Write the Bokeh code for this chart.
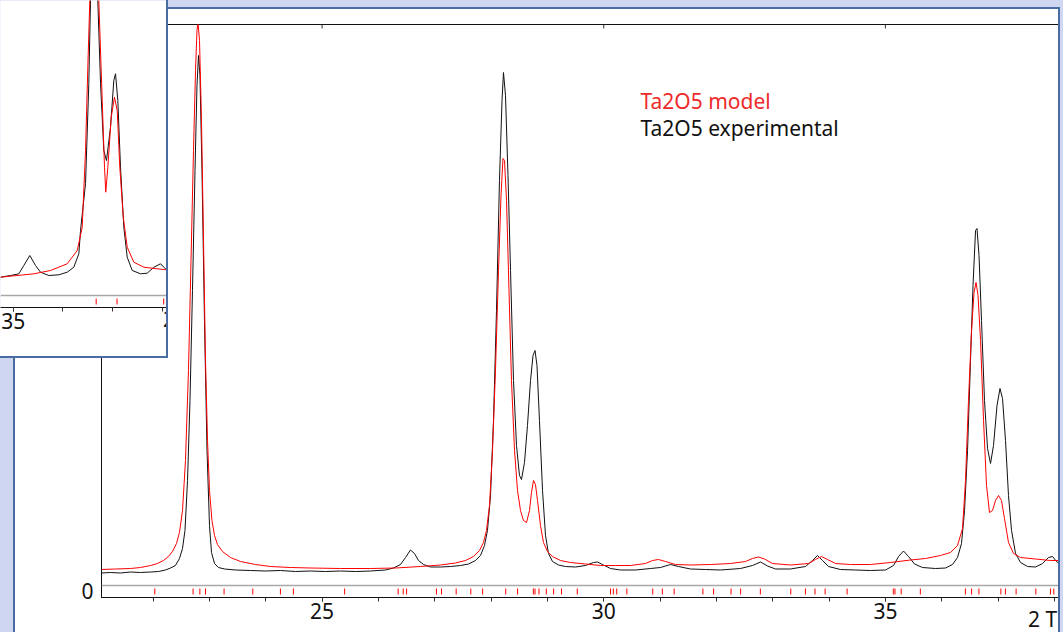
from bokeh.plotting import figure
from bokeh.models import Range1d, FixedTicker, LinearAxis, Label, Span, ColumnDataSource, Div
from bokeh.layouts import column
from bokeh.embed import file_html
from bokeh.resources import INLINE

# ---------------- Ta2O5 powder pattern, full scan ----------------
two_theta_exp = [
    21.084, 21.244, 21.421, 21.599, 21.776, 21.954, 22.096, 22.220, 22.309, 22.397,
    22.468, 22.522, 22.566, 22.611, 22.655, 22.699, 22.744, 22.779, 22.806, 22.832,
    22.868, 22.912, 22.957, 23.001, 23.037, 23.090, 23.161, 23.267, 23.463, 23.729,
    23.995, 24.261, 24.528, 24.794, 25.060, 25.327, 25.593, 25.859, 26.126, 26.268,
    26.392, 26.481, 26.569, 26.640, 26.711, 26.800, 26.924, 27.102, 27.279, 27.457,
    27.599, 27.723, 27.812, 27.883, 27.936, 27.990, 28.043, 28.096, 28.149, 28.194,
    28.220, 28.256, 28.300, 28.345, 28.398, 28.451, 28.504, 28.540, 28.593, 28.646,
    28.700, 28.744, 28.780, 28.815, 28.859, 28.913, 28.966, 29.019, 29.090, 29.197,
    29.321, 29.498, 29.676, 29.818, 29.889, 29.978, 30.120, 30.297, 30.564, 30.830,
    31.007, 31.185, 31.327, 31.540, 31.806, 32.073, 32.428, 32.641, 32.783, 32.907,
    33.049, 33.315, 33.582, 33.706, 33.795, 33.883, 33.990, 34.203, 34.469, 34.735,
    35.002, 35.144, 35.233, 35.321, 35.410, 35.517, 35.659, 35.889, 36.067, 36.191,
    36.280, 36.351, 36.405, 36.458, 36.511, 36.555, 36.600, 36.626, 36.662, 36.706,
    36.759, 36.813, 36.866, 36.919, 36.981, 37.034, 37.079, 37.132, 37.185, 37.239,
    37.310, 37.398, 37.523, 37.665, 37.789, 37.895, 37.966, 38.038, 38.109, 38.140,
]
counts_exp = [
    17.5, 18, 17.5, 18.5, 18, 18.5, 19, 20.5, 22.5, 25,
    32, 42, 60, 110, 190, 300, 420, 505, 535, 515,
    420, 270, 140, 65, 38, 27, 23, 21.5, 20.5, 20,
    19.5, 20, 19, 19.5, 19, 19.5, 19, 19.5, 20.5, 22.5,
    26, 33, 40.5, 37, 30, 26, 23.5, 23.5, 24, 25,
    26.5, 30, 35, 45, 60, 95, 170, 280, 410, 490,
    518, 495, 415, 320, 210, 145, 115, 111, 128, 165,
    210, 235, 240, 225, 170, 100, 55, 37, 29, 25.5,
    24, 23.5, 25, 28, 28.5, 26, 22, 20.5, 20.5, 22,
    23, 26, 24, 21.5, 21, 20.5, 22, 25, 28.5, 24.5,
    21.5, 21.5, 24, 30, 35, 30, 24, 21, 20.5, 20,
    20.5, 25, 34, 39.5, 34, 26.5, 23, 22, 22.5, 26,
    33, 47, 80, 140, 230, 305, 360, 362, 335, 270,
    190, 142, 127, 145, 185, 202, 192, 150, 95, 60,
    37, 28, 24, 23.5, 27, 33, 34, 29, 26, 25,
]

two_theta_model = [
    21.084, 21.332, 21.599, 21.776, 21.954, 22.078, 22.184, 22.273, 22.344, 22.415,
    22.468, 22.522, 22.575, 22.628, 22.673, 22.717, 22.753, 22.779, 22.797, 22.824,
    22.859, 22.895, 22.930, 22.966, 23.001, 23.045, 23.090, 23.143, 23.232, 23.374,
    23.551, 23.818, 24.084, 24.439, 24.794, 25.327, 25.859, 26.303, 26.747, 27.102,
    27.368, 27.546, 27.688, 27.794, 27.865, 27.918, 27.972, 28.025, 28.078, 28.132,
    28.176, 28.211, 28.238, 28.274, 28.318, 28.362, 28.416, 28.469, 28.522, 28.575,
    28.629, 28.682, 28.717, 28.753, 28.788, 28.824, 28.877, 28.930, 29.001, 29.090,
    29.232, 29.410, 29.676, 29.942, 30.209, 30.475, 30.741, 30.865, 30.972, 31.096,
    31.274, 31.540, 31.895, 32.250, 32.516, 32.641, 32.747, 32.854, 32.996, 33.315,
    33.635, 33.759, 33.866, 33.972, 34.114, 34.380, 34.735, 35.091, 35.446, 35.712,
    35.978, 36.156, 36.280, 36.369, 36.422, 36.475, 36.529, 36.573, 36.609, 36.644,
    36.689, 36.742, 36.795, 36.848, 36.901, 36.955, 37.008, 37.061, 37.114, 37.185,
    37.274, 37.398, 37.665, 37.931, 38.140,
]
counts_model = [
    21, 21.5, 22, 23, 25, 27, 30, 34, 39, 47,
    58, 80, 130, 220, 330, 440, 520, 560, 568, 550,
    470, 350, 230, 150, 100, 70, 55, 46, 39, 33,
    29, 26, 24, 23, 22.5, 22, 22, 22.5, 24, 25.5,
    27.5, 30, 34, 40, 48, 60, 85, 140, 220, 320,
    395, 432, 430, 390, 300, 210, 140, 100, 80, 70,
    68, 80, 98, 110, 106, 90, 65, 48, 39, 34,
    30, 28, 26.5, 25, 25, 25, 27, 30, 31, 29,
    26, 25.5, 26, 27, 29, 32, 33.5, 31.5, 27, 25.5,
    27, 31, 34, 31, 27, 26, 26, 28, 30.5, 32,
    35, 38, 45, 62, 110, 190, 260, 298, 308, 295,
    250, 170, 105, 78, 80, 90, 95, 90, 72, 48,
    37, 33, 31.5, 30, 30,
]

# calculated reflection positions of the model phase
reflections = [
    22.03, 22.71, 22.83, 22.93, 23.26, 23.77, 24.26, 24.49, 25.40, 26.35,
    26.44, 26.50, 27.03, 27.12, 27.38, 27.64, 27.85, 28.26, 28.47, 28.75,
    28.78, 28.85, 28.98, 29.11, 29.25, 29.53, 30.12, 30.17, 30.23, 30.41,
    30.87, 31.04, 31.25, 31.76, 31.95, 32.26, 32.43, 32.78, 33.32, 33.58,
    33.75, 33.93, 34.32, 35.14, 35.17, 35.28, 35.62, 36.42, 36.53, 36.66,
    37.05, 37.13, 37.32, 37.67, 37.93, 37.99,
]

# ---------------- second window: the 36-38 deg doublet ----------------
zoom_two_theta_exp = [
    34.744, 34.946, 35.113, 35.213, 35.334, 35.449, 35.550, 35.717, 35.918, 36.087,
    36.220, 36.321, 36.355, 36.456, 36.522, 36.556, 36.610, 36.660, 36.703, 36.758,
    36.824, 36.878, 36.959, 37.025, 37.060, 37.106, 37.160, 37.227, 37.295, 37.396,
    37.563, 37.698, 37.831, 37.966, 38.066, 38.127,
]
zoom_counts_exp = [
    23.3, 25, 26.7, 35, 45, 35, 28.3, 25, 25.7, 28.3,
    33.3, 46.7, 70, 117, 217, 300, 400, 370, 300, 217,
    150, 140, 173.3, 220, 226.7, 200, 133.3, 73.3, 43.3, 30,
    26.7, 27.3, 33.3, 36.7, 31.7, 30,
]
zoom_two_theta_model = [
    34.744, 35.415, 35.751, 36.087, 36.289, 36.389, 36.456, 36.502, 36.542, 36.617,
    36.723, 36.792, 36.838, 36.863, 36.905, 36.973, 37.039, 37.094, 37.146, 37.215,
    37.295, 37.428, 37.629, 37.899, 38.080, 38.127,
]
zoom_counts_model = [
    23.3, 26.7, 30, 36.7, 50, 73.3, 150, 233.3, 300, 380,
    300, 200, 133.3, 108.3, 133.3, 183.3, 203.3, 190, 133.3, 83.3,
    53.3, 38.3, 33.3, 31.7, 30.7, 30.5,
]
zoom_reflections = [36.67, 37.09, 38.03]

x_major = [25, 30, 35]
x_minor = list(range(21, 39))
zoom_major = [35, 40]
zoom_minor = [35, 36, 37, 38]
y_ticks = [0]
legend_labels = ["Ta2O5 model", "Ta2O5 experimental"]
axis_title = "2 Theta"

FONT = "Noto Sans"
LAVENDER = "#ced6f2"
FRAME_BLUE = "#4a6ca5"
RED = "#ff0000"
BLACK = "#111111"
MARKER_BAND = "#a8a8a8"

Y_MAIN = (-7, 566)
Y_ZOOM = (-7, 300)


def style_bottom_axis(ax):
    ax.axis_line_color = BLACK
    ax.axis_line_width = 1
    ax.major_tick_line_color = "#333333"
    ax.minor_tick_line_color = "#333333"
    ax.major_tick_in = 0
    ax.major_tick_out = 4
    ax.minor_tick_in = 0
    ax.minor_tick_out = 4
    ax.major_label_standoff = 1
    ax.major_label_text_font = FONT
    ax.major_label_text_font_size = "21px"
    ax.major_label_text_color = BLACK


def panel(left, top, width, height, color, z):
    # a flat piece of the application window frame
    return Div(text="", width=width, height=height, margin=0, styles={
        "position": "absolute", "left": f"{left}px", "top": f"{top}px",
        "width": f"{width}px", "height": f"{height}px", "margin": "0px",
        "background-color": color, "z-index": str(z)})


def caption(text, left, top, width, z):
    # axis caption, cut by the edge of its window
    return Div(text=text, width=width, height=21, margin=0, styles={
        "position": "absolute", "left": f"{left}px", "top": f"{top}px",
        "width": f"{width}px", "height": "21px", "margin": "0px", "overflow": "hidden",
        "white-space": "nowrap", "font-family": FONT, "font-size": "21px",
        "line-height": "21px", "color": BLACK, "z-index": str(z)})


# ---------------- main pattern window ----------------
main = figure(width=1063, height=632, output_backend="svg", toolbar_location=None,
              x_range=Range1d(21.084, 38.126), y_range=Range1d(*Y_MAIN),
              x_axis_location=None, y_axis_location=None,
              min_border_left=101, min_border_right=2,
              min_border_top=24, min_border_bottom=35,
              background_fill_color="white", border_fill_color="white",
              outline_line_color=BLACK, outline_line_width=1)
main.grid.grid_line_color = None

bottom_axis = LinearAxis(ticker=FixedTicker(ticks=x_major, minor_ticks=x_minor))
style_bottom_axis(bottom_axis)
main.add_layout(bottom_axis, "below")

left_axis = LinearAxis(ticker=FixedTicker(ticks=y_ticks),
                       axis_line_color=BLACK, major_tick_in=0, major_tick_out=0,
                       minor_tick_in=0, minor_tick_out=0, major_label_standoff=8,
                       major_label_text_font=FONT, major_label_text_font_size="21px",
                       major_label_text_color=BLACK)
main.add_layout(left_axis, "left")

# inward tick marks on the upper frame edge
main.segment(x0=x_major, x1=x_major, y0=Y_MAIN[1], y1=Y_MAIN[1] - 4,
             line_color="#333333", line_width=1)

main.add_layout(Span(location=5, dimension="width", line_color=MARKER_BAND, line_width=1.5))
main.segment(x0="x", y0=-4, x1="x", y1=2, source=ColumnDataSource(dict(x=reflections)),
             line_color=RED, line_width=1)

main.line(two_theta_exp, counts_exp, line_color=BLACK, line_width=1)
main.line(two_theta_model, counts_model, line_color=RED, line_width=1)

main.add_layout(Label(x=30.652, y=490, text=legend_labels[0], text_color="#ee2a2a",
                      text_font=FONT, text_font_size="21px", text_baseline="alphabetic"))
main.add_layout(Label(x=30.652, y=463, text=legend_labels[1], text_color=BLACK,
                      text_font=FONT, text_font_size="21px", text_baseline="alphabetic"))

# ---------------- second, overlapping window ----------------
inset = figure(width=269, height=358, output_backend="svg", toolbar_location=None,
               x_range=Range1d(34.744, 38.086), y_range=Range1d(*Y_ZOOM),
               x_axis_location=None, y_axis_location=None,
               min_border_left=101, min_border_right=2,
               min_border_top=0, min_border_bottom=51,
               background_fill_color="white", border_fill_color="white",
               outline_line_color=None)
inset.grid.grid_line_color = None
inset.styles = {"position": "absolute", "left": "-101px", "top": "0px", "z-index": "10"}

zoom_axis = LinearAxis(ticker=FixedTicker(ticks=zoom_major, minor_ticks=zoom_minor))
style_bottom_axis(zoom_axis)
inset.add_layout(zoom_axis, "below")

inset.add_layout(Span(location=5, dimension="width", line_color=MARKER_BAND, line_width=1.5))
inset.segment(x0="x", y0=-4, x1="x", y1=2, source=ColumnDataSource(dict(x=zoom_reflections)),
              line_color=RED, line_width=1)
inset.line(zoom_two_theta_exp, zoom_counts_exp, line_color=BLACK, line_width=1)
inset.line(zoom_two_theta_model, zoom_counts_model, line_color=RED, line_width=1)

# ---------------- window frames ----------------
frames = [
    panel(0, 0, 13, 632, LAVENDER, 5),
    panel(13, 7, 2, 625, FRAME_BLUE, 5),
    panel(0, 0, 1063, 7, LAVENDER, 5),
    panel(13, 7, 1047, 2, FRAME_BLUE, 5),
    panel(1058, 7, 2, 625, FRAME_BLUE, 6),
    panel(1060, 0, 3, 632, LAVENDER, 6),
    caption(axis_title, 1028, 609, 30, 5),
    caption(axis_title, 163, 309, 3, 15),
    panel(166, 0, 2, 358, FRAME_BLUE, 15),
    panel(0, 356, 168, 2, FRAME_BLUE, 15),
]

p = column(main, inset, *frames, spacing=0)

open("out.html", "w").write(file_html(p, INLINE))
